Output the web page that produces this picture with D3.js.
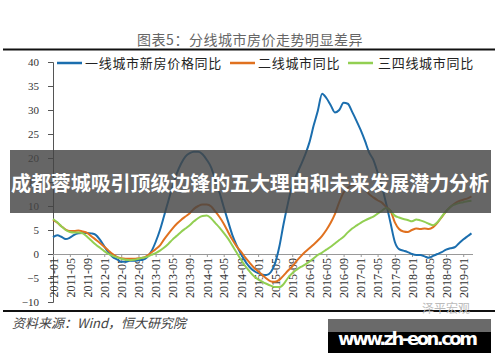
<!DOCTYPE html>
<html>
<head>
<meta charset="utf-8">
<script src="https://cdn.jsdelivr.net/npm/d3@7"></script>
<style>
  body { margin: 0; background: #fff; }
  svg { display: block; }
</style>
</head>
<body>
<div id="chart"></div>
<script>
// monthly YoY %, 2011-01 .. 2019-03
const startMonth = '2011-01';
const endMonth = '2019-03';

const tier1 = [
  3.5, 3.9, 3.6, 3.1, 3.4, 4.0, 4.3, 4.4, 4.4, 4.3, 4.0, 3.0,
  1.6, 0.3, -0.6, -1.1, -1.6, -1.6, -1.4, -1.4, -1.3, -1.2, -0.7, 0.5,
  2.5, 5.0, 7.8, 11.0, 14.0, 16.8, 18.8, 20.3, 21.0, 21.3, 21.3, 20.8,
  19.6, 18.0, 15.5, 12.8, 9.8, 6.8, 4.0, 1.8, 0.0, -1.5, -2.7, -3.5,
  -4.0, -4.3, -4.4, -3.8, -2.0, 1.5, 6.2, 10.5, 14.3, 16.5, 18.5, 20.6,
  23.2, 26.8, 29.8, 33.4, 32.5, 31.0, 29.5, 30.0, 31.5, 31.3, 29.6, 27.8,
  25.8, 23.5, 21.2, 19.6, 17.0, 14.0, 10.5, 6.5, 2.5, 1.0, 0.7, 0.4,
  0.0, -0.2, -0.2, -0.5, -0.8, -0.4, 0.0, 0.4, 0.9, 1.2, 1.4, 2.2,
  3.0, 3.7, 4.3
];

const tier2 = [
  7.1, 6.5, 5.8, 5.1, 4.8, 4.8, 4.9, 4.7, 4.4, 3.7, 3.0, 2.3,
  1.5, 0.7, 0.0, -0.6, -0.9, -1.0, -1.0, -1.0, -0.9, -0.8, -0.4, 0.3,
  1.0, 1.8, 3.0, 4.2, 5.3, 6.3, 7.1, 7.8, 8.5, 9.4, 10.0, 10.3,
  10.3, 9.9, 8.9, 7.7, 6.3, 4.6, 3.0, 1.6, 0.5, -0.7, -1.8, -2.8,
  -3.6, -4.4, -5.1, -5.7, -5.8, -5.4, -4.5, -3.5, -2.6, -1.5, -0.5, 0.4,
  1.2, 2.0, 2.8, 3.8, 5.0, 6.5, 8.3, 10.8, 12.8, 13.8, 14.3, 14.3,
  14.0, 13.4, 12.5, 11.8, 11.2, 10.7, 9.8, 9.0, 6.6, 5.2, 4.7, 4.6,
  5.0, 5.3, 5.2, 5.3, 5.2, 5.6, 6.5, 7.7, 8.9, 9.8, 10.5, 11.0,
  11.3, 11.6, 12.0
];

const tier34 = [
  7.3, 6.6, 5.8, 5.0, 4.6, 4.5, 4.5, 4.3, 3.6, 2.8, 2.0, 1.3,
  0.6, 0.0, -0.4, -0.7, -1.0, -1.2, -1.3, -1.2, -1.0, -0.8, -0.6, -0.2,
  0.2, 0.7, 1.3, 2.1, 3.0, 3.8, 4.6, 5.3, 6.0, 6.8, 7.5, 7.9,
  8.0, 7.4, 6.5, 5.5, 4.4, 3.2, 1.8, 0.3, -1.2, -2.5, -3.6, -4.6,
  -5.3, -5.8, -6.2, -6.6, -6.9, -6.9, -6.3, -5.0, -4.0, -3.3, -2.7, -2.2,
  -1.6, -0.9, -0.2, 0.3, 0.9, 1.5, 2.2, 2.9, 3.6, 4.5, 5.3, 5.9,
  6.5, 7.0, 7.4, 7.8, 8.4, 9.0, 9.6, 9.0, 8.0, 7.6, 7.3, 7.1,
  6.8, 7.2, 7.0, 6.7, 6.3, 6.0, 6.6, 7.8, 8.9, 9.8, 10.3, 10.6,
  10.8, 11.0, 11.1
];

const seriesNames = ['一线城市新房价格同比', '二线城市同比', '三四线城市同比'];
const seriesColors = ['#1b6eae', '#e0711f', '#92cf52'];

const tickLabels = [
  '2011-01', '2011-05', '2011-09', '2012-01', '2012-05', '2012-09',
  '2013-01', '2013-05', '2013-09', '2014-01', '2014-05', '2014-09',
  '2015-01', '2015-05', '2015-09', '2016-01', '2016-05', '2016-09',
  '2017-01', '2017-05', '2017-09', '2018-01', '2018-05', '2018-09',
  '2019-01'
];
const yTicks = [-10, -5, 0, 5, 10, 15, 20, 25, 30, 35, 40];

const W = 500, H = 362;
const parseMonth = d3.timeParse('%Y-%m');
const fmtMonth = d3.timeFormat('%Y-%m');

const svg = d3.select('#chart').append('svg')
  .attr('width', W)
  .attr('height', H);

svg.append('rect').attr('width', W).attr('height', H).attr('fill', '#fff');

// header
svg.append('text')
  .attr('x', 250).attr('y', 45)
  .attr('text-anchor', 'middle')
  .attr('font-family', '"Noto Sans CJK SC", sans-serif')
  .attr('font-size', 14)
  .attr('letter-spacing', 0.5)
  .attr('fill', '#666')
  .text('图表5：分线城市房价走势明显差异');

svg.append('line')
  .attr('x1', 3).attr('x2', 495).attr('y1', 49.5).attr('y2', 49.5)
  .attr('stroke', '#111').attr('stroke-width', 2);

const months = d3.timeMonth.range(parseMonth(startMonth), d3.timeMonth.offset(parseMonth(endMonth), 1));

const x = d3.scaleTime()
  .domain([parseMonth(startMonth), parseMonth(endMonth)])
  .range([53, 471.5]);

const y = d3.scaleLinear()
  .domain([-10, 40])
  .range([302, 62]);

// y axis
const yAxis = svg.append('g')
  .attr('transform', 'translate(53,0)')
  .call(d3.axisLeft(y).tickValues(yTicks).tickSize(5).tickPadding(9).tickSizeOuter(5));
yAxis.select('.domain').attr('stroke', '#555');
yAxis.selectAll('.tick line').attr('stroke', '#555');
yAxis.selectAll('text')
  .attr('font-family', '"Liberation Serif", serif')
  .attr('font-size', 11)
  .attr('fill', '#333');

// x axis at zero
const xAxis = svg.append('g')
  .attr('transform', `translate(0,${y(0)})`)
  .call(d3.axisBottom(x)
    .tickValues(tickLabels.map(parseMonth))
    .tickFormat(fmtMonth)
    .tickSize(3)
    .tickSizeOuter(0));
xAxis.select('.domain').attr('stroke', '#999').attr('d', 'M53,0.5H473');
xAxis.selectAll('.tick line').attr('stroke', '#999');
xAxis.selectAll('text')
  .attr('transform', 'rotate(-90)')
  .attr('text-anchor', 'end')
  .attr('x', -4)
  .attr('y', 0)
  .attr('dy', '0.35em')
  .attr('font-family', '"Liberation Serif", serif')
  .attr('font-size', 12)
  .attr('fill', '#333');

// lines
const line = d3.line()
  .x((d, i) => x(months[i]))
  .y(d => y(d))
  .curve(d3.curveMonotoneX);

[tier1, tier2, tier34].forEach((s, i) => {
  svg.append('path')
    .datum(s)
    .attr('fill', 'none')
    .attr('stroke', seriesColors[i])
    .attr('stroke-width', 2)
    .attr('stroke-linejoin', 'round')
    .attr('d', line);
});

// legend
const legendPos = [{ x: 57, tx: 85 }, { x: 230, tx: 258 }, { x: 348, tx: 378 }];
seriesNames.forEach((name, i) => {
  const g = svg.append('g');
  g.append('line')
    .attr('x1', legendPos[i].x).attr('x2', legendPos[i].x + 25)
    .attr('y1', 63).attr('y2', 63)
    .attr('stroke', seriesColors[i]).attr('stroke-width', 2.5);
  g.append('text')
    .attr('x', legendPos[i].tx).attr('y', 67.5)
    .attr('font-family', '"Noto Sans CJK SC", sans-serif')
    .attr('font-size', 13)
    .attr('letter-spacing', 0.7)
    .attr('fill', '#222')
    .text(name);
});

// footer
svg.append('line')
  .attr('x1', 3).attr('x2', 495).attr('y1', 311).attr('y2', 311)
  .attr('stroke', '#111').attr('stroke-width', 2);

svg.append('text')
  .attr('x', 12).attr('y', 328)
  .attr('font-family', '"Noto Sans CJK SC", sans-serif')
  .attr('font-size', 13)
  .attr('font-style', 'italic')
  .attr('fill', '#444')
  .text('资料来源：Wind，恒大研究院');

svg.append('text')
  .attr('x', 470).attr('y', 313)
  .attr('text-anchor', 'end')
  .attr('font-family', '"Noto Sans CJK SC", sans-serif')
  .attr('font-size', 12)
  .attr('fill', '#bbb')
  .text('泽平宏观');

// overlay banner
svg.append('rect')
  .attr('x', 10).attr('y', 150).attr('width', 481).attr('height', 63)
  .attr('fill', 'rgba(68,68,68,0.82)');
svg.append('text')
  .attr('x', 250).attr('y', 191)
  .attr('text-anchor', 'middle')
  .attr('font-family', '"Noto Sans CJK SC", sans-serif')
  .attr('font-size', 20)
  .attr('font-weight', 'bold')
  .attr('textLength', 478)
  .attr('fill', '#fff')
  .text('成都蓉城吸引顶级边锋的五大理由和未来发展潜力分析');

// site badge
svg.append('rect')
  .attr('x', 328).attr('y', 319).attr('width', 163).attr('height', 34)
  .attr('fill', '#000');
svg.append('rect')
  .attr('x', 328).attr('y', 319).attr('width', 163).attr('height', 13)
  .attr('fill', '#6a6a6a');
svg.append('text')
  .attr('x', 338).attr('y', 345)
  .attr('font-family', '"DejaVu Sans", sans-serif')
  .attr('font-size', 18)
  .attr('font-weight', 'bold')
  .attr('textLength', 140)
  .attr('fill', '#fff')
  .text('www.zh-eon.com');
</script>
</body>
</html>
